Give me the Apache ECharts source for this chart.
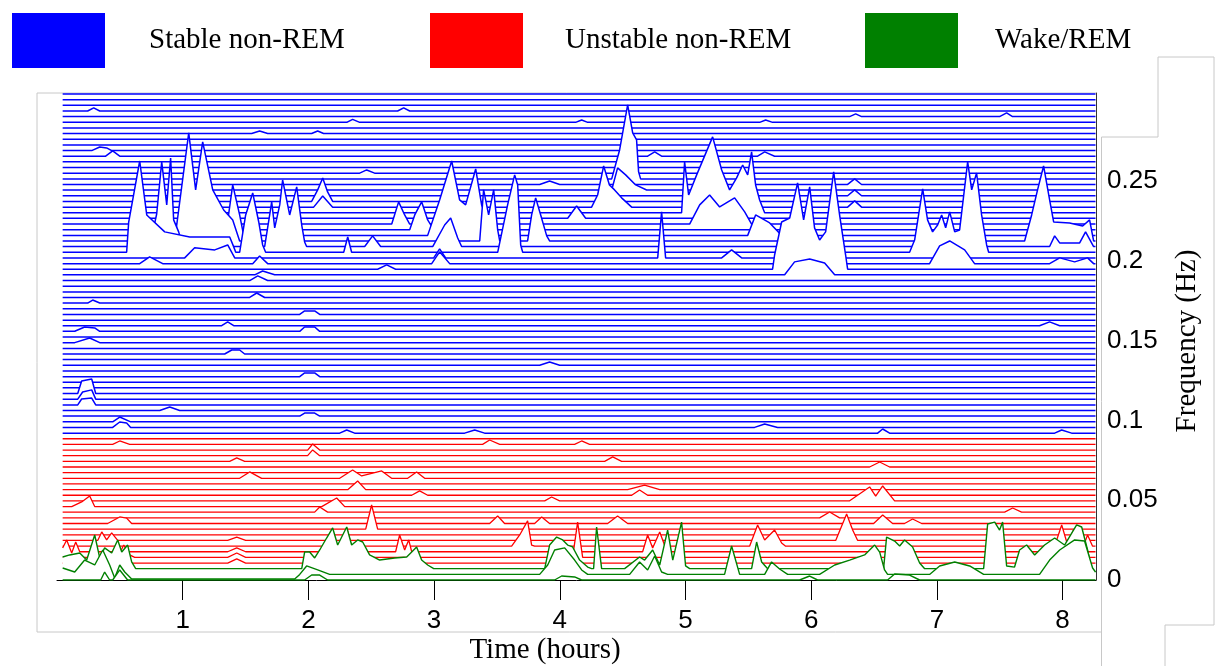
<!DOCTYPE html>
<html>
<head>
<meta charset="utf-8">
<title>Sleep stage waterfall</title>
<script src="https://cdn.jsdelivr.net/npm/echarts@6/dist/echarts.min.js"></script>
<style>
  html, body { margin: 0; padding: 0; background: #fff; }
  #chart { width: 1221px; height: 666px; }
</style>
</head>
<body>
<div id="chart"></div>
<script>
// frequency bin of each trace (Hz), bottom trace first
const freqBins = [
  0, .0035, .0071, .0106, .0142, .0177, .0212, .0248, .0283, .0319,
  .0354, .0389, .0425, .0460, .0496, .0531, .0566, .0602, .0637, .0673,
  .0708, .0743, .0779, .0814, .0850, .0885, .0920, .0956, .0991, .1027,
  .1062, .1097, .1133, .1168, .1204, .1239, .1274, .1310, .1345, .1381,
  .1416, .1451, .1487, .1522, .1558, .1593, .1628, .1664, .1699, .1735,
  .1770, .1805, .1841, .1876, .1912, .1947, .1982, .2018, .2053, .2089,
  .2124, .2159, .2195, .2230, .2266, .2301, .2336, .2372, .2407, .2443,
  .2478, .2513, .2549, .2584, .2620, .2655, .2690, .2726, .2761, .2797,
  .2832, .2867, .2903, .2938, .2974, .3009, .3044
];

const stageNames = ['Wake/REM', 'Unstable non-REM', 'Stable non-REM'];
const stageColors = ['#008000', '#ff0000', '#0000ff'];
const stageLastBin = [2, 25, 86];
const stageWidths = [1.4, 1.3, 1.5];

const T_START = 0.045; // hours
const T_END = 8.262;

// [trace, leaves baseline (h), back on baseline (h), [[time h, value Hz], ...]]
// null = the shape runs off the edge of the plot
const wakeShapes = [
  [2, null, 0.626, [[0.045,.0144],[0.101,.0157],[0.181,.0169],[0.236,.0125],[0.300,.0282],[0.340,.0138],[0.379,.0201],[0.435,.0169],[0.483,.0251],[0.515,.0175],[0.562,.0219],[0.594,.0113]]],
  [2, 1.947, 2.997, [[1.970,.0175],[2.010,.0175],[2.050,.0138],[2.090,.0188],[2.145,.0263],[2.193,.0326],[2.233,.0219],[2.273,.0282],[2.305,.0332],[2.344,.0219],[2.392,.0251],[2.432,.0238],[2.487,.0157],[2.567,.0125],[2.686,.0138],[2.782,.0144],[2.822,.0175],[2.861,.0207],[2.901,.0125],[2.949,.0094]]],
  [2, 3.880, 4.253, [[3.919,.0219],[3.975,.0269],[4.023,.0251],[4.063,.0219],[4.102,.0207],[4.158,.0125],[4.222,.0081]]],
  [2, 4.269, 4.333, [[4.293,.0332]]],
  [2, 4.516, 5.033, [[4.635,.0144],[4.675,.0125],[4.739,.0188],[4.795,.0094],[4.858,.0313],[4.899,.0125],[4.969,.0363],[5.001,.0088]]],
  [2, 5.526, 5.654, [[5.566,.0238],[5.606,.0113]]],
  [2, 6.576, 6.903, [[6.600,.0269],[6.664,.0244],[6.704,.0213],[6.743,.0251],[6.807,.0207],[6.863,.0107]]],
  [2, 7.372, null, [[7.404,.0351],[7.460,.0363],[7.499,.0313],[7.523,.0363],[7.555,.0088],[7.618,.0081],[7.658,.0188],[7.714,.0219],[7.778,.0157],[7.857,.0219],[7.937,.0263],[8.016,.0219],[8.112,.0345],[8.152,.0332],[8.199,.0188],[8.231,.0063],[8.262,.0050]]],
  [1, null, 1.931, [[0.045,.0075],[0.141,.0050],[0.220,.0125],[0.300,.0094],[0.364,.0188],[0.419,.0094],[0.459,.0013],[0.499,.0094],[0.539,.0050],[0.594,.0006],[1.891,.0006]]],
  [1, 1.931, 2.169, [[1.986,.0088],[2.074,.0063]]],
  [1, 3.840, 4.222, [[3.904,.0094],[3.959,.0188],[4.039,.0201],[4.118,.0125],[4.174,.0063]]],
  [1, 4.556, 4.858, [[4.635,.0113],[4.699,.0063],[4.755,.0150],[4.810,.0050]]],
  [1, 5.311, 5.431, [[5.367,.0213]]],
  [1, 5.630, 5.813, [[5.685,.0113],[5.749,.0069]]],
  [1, 6.067, 6.608, [[6.187,.0094],[6.306,.0125],[6.425,.0157],[6.505,.0219],[6.545,.0175],[6.584,.0063]]],
  [1, 6.942, 7.372, [[7.022,.0088],[7.142,.0113],[7.261,.0088]]],
  [1, 7.817, null, [[7.897,.0125],[7.977,.0188],[8.096,.0251],[8.175,.0244],[8.239,.0075],[8.262,.0050]]],
  [0, 0.348, 0.419, [[0.379,.0050]]],
  [0, 0.443, 0.562, [[0.499,.0063]]],
  [0, 1.970, 2.153, [[2.026,.0031],[2.090,.0031]]],
  [0, 3.959, 4.174, [[4.015,.0025],[4.118,.0019]]],
  [0, 5.908, 6.051, [[5.988,.0025]]],
  [0, 6.608, 6.863, [[6.664,.0038],[6.783,.0031]]]
];

const unstableShapes = [
  [24, 0.443, 0.578, [[0.499,.0871]]],
  [18, 1.453, 1.628, [[1.533,.0677]]],
  [13, 0.117, 0.300, [[0.196,.0489],[0.260,.0526]]],
  [10, 0.403, 0.594, [[0.499,.0395],[0.554,.0388]]],
  [13, 2.106, 2.289, [[2.225,.0514]]],
  [18, 2.249, 2.662, [[2.352,.0689],[2.424,.0652],[2.583,.0683]]],
  [16, 2.313, 2.456, [[2.392,.0620]]],
  [9, 2.456, 2.551, [[2.503,.0470]]],
  [6, 2.265, 2.344, [[2.305,.0326]]],
  [15, 2.822, 2.949, [[2.885,.0558]]],
  [18, 2.790, 2.925, [[2.861,.0677]]],
  [14, 3.880, 3.999, [[3.935,.0520]]],
  [21, 4.357, 4.492, [[4.421,.0771]]],
  [10, 3.442, 3.561, [[3.506,.0401]]],
  [10, 3.800, 3.919, [[3.856,.0395]]],
  [6, 3.617, 3.800, [[3.681,.0282],[3.744,.0370],[3.776,.0219]]],
  [4, 4.102, 4.182, [[4.142,.0363]]],
  [10, 4.381, 4.540, [[4.460,.0401]]],
  [15, 4.572, 4.699, [[4.635,.0564]]],
  [14, 6.306, 6.664, [[6.465,.0583],[6.513,.0526],[6.569,.0589]]],
  [15, 6.370, 6.624, [[6.449,.0539],[6.545,.0526]]],
  [7, 6.195, 6.370, [[6.282,.0414],[6.330,.0313]]],
  [10, 6.497, 6.648, [[6.569,.0407]]],
  [6, 5.510, 5.797, [[5.574,.0345],[5.630,.0251],[5.709,.0313],[5.765,.0232]]],
  [12, 7.539, 7.674, [[7.603,.0451]]],
  [10, 6.743, 6.879, [[6.807,.0382]]],
  [5, null, 0.181, [[0.045,.0200],[0.077,.0251],[0.117,.0169],[0.149,.0238]]],
  [7, 0.324, 0.483, [[0.356,.0301],[0.395,.0251],[0.435,.0295]]],
  [4, 0.483, 0.618, [[0.531,.0219],[0.578,.0157]]],
  [5, 1.358, 1.501, [[1.430,.0201]]],
  [4, 1.358, 1.501, [[1.430,.0169]]],
  [3, 1.358, 1.501, [[1.430,.0132]]],
  [7, 1.358, 1.501, [[1.430,.0269]]],
  [5, 2.694, 2.822, [[2.726,.0282],[2.766,.0188],[2.798,.0251]]],
  [5, 4.659, 4.890, [[4.699,.0282],[4.739,.0201],[4.795,.0301],[4.842,.0201]]],
  [6, 7.937, 8.239, [[7.993,.0345],[8.040,.0219],[8.087,.0313],[8.160,.0201],[8.199,.0282]]],
  [21, 1.374, 1.493, [[1.430,.0765]]],
  [22, 1.994, 2.090, [[2.034,.0815]]],
  [23, 1.994, 2.090, [[2.034,.0852]]],
  [20, 6.465, 6.624, [[6.545,.0739]]],
  [11, 6.067, 6.226, [[6.147,.0426]]],
  [12, 2.050, 2.153, [[2.090,.0457]]],
  [24, 3.386, 3.522, [[3.442,.0877]]],
  [24, 4.118, 4.237, [[4.174,.0871]]],
  [16, 4.540, 4.795, [[4.675,.0595]]]
];

const stableShapes = [
  [58, 0.554, 1.422, [[0.570,.2240],[0.658,.2625],[0.714,.2287],[0.857,.2181],[1.056,.2149],[1.374,.2149],[1.406,.2087]]],
  [59, 0.737, 1.000, [[0.793,.2293],[0.833,.2619],[0.873,.2350],[0.904,.2644],[0.928,.2256],[0.968,.2181]]],
  [60, 0.936, 1.453, [[0.968,.2318],[1.048,.2801],[1.103,.2444],[1.159,.2745],[1.239,.2444],[1.326,.2318],[1.398,.2256]]],
  [61, 1.342, 1.485, [[1.398,.2475],[1.453,.2287]]],
  [58, 1.453, 1.660, [[1.501,.2287],[1.557,.2425],[1.605,.2243],[1.636,.2099]]],
  [59, 1.652, 1.986, [[1.692,.2287],[1.708,.2369],[1.732,.2206],[1.772,.2350],[1.795,.2506],[1.851,.2287],[1.907,.2463],[1.947,.2224],[1.970,.2118]]],
  [57, 1.016, 1.414, [[1.095,.2081],[1.255,.2068],[1.358,.2099]]],
  [56, 0.658, 0.841, [[0.737,.2024]]],
  [56, 1.557, 1.676, [[1.612,.2030]]],
  [67, 2.026, 2.193, [[2.074,.2444],[2.114,.2519],[2.153,.2431]]],
  [66, 2.042, 2.193, [[2.114,.2406]]],
  [58, 2.281, 2.344, [[2.313,.2149]]],
  [59, 2.448, 2.575, [[2.511,.2156]]],
  [55, 2.551, 2.694, [[2.623,.1974]]],
  [63, 2.663, 2.806, [[2.718,.2369],[2.766,.2287]]],
  [62, 2.806, 2.997, [[2.846,.2287],[2.901,.2369],[2.949,.2256]]],
  [61, 2.949, 3.458, [[3.044,.2381],[3.140,.2625],[3.203,.2381],[3.251,.2350],[3.331,.2575],[3.378,.2350],[3.426,.2256]]],
  [60, 3.363, 3.522, [[3.394,.2444],[3.434,.2287],[3.474,.2444],[3.506,.2193]]],
  [58, 3.506, 3.705, [[3.585,.2350],[3.641,.2538],[3.665,.2475],[3.689,.2099]]],
  [59, 2.989, 3.219, [[3.084,.2224],[3.132,.2268],[3.188,.2143]]],
  [57, 2.997, 3.092, [[3.044,.2074]]],
  [56, 2.981, 3.124, [[3.044,.2056]]],
  [60, 3.744, 3.919, [[3.776,.2287],[3.808,.2394],[3.848,.2287],[3.896,.2156]]],
  [70, 3.840, 3.999, [[3.919,.2500]]],
  [64, 4.063, 4.206, [[4.134,.2343]]],
  [71, 4.413, 4.643, [[4.476,.2694],[4.540,.2976],[4.580,.2801],[4.611,.2757],[4.627,.2557]]],
  [69, 4.413, 4.691, [[4.460,.2582],[4.524,.2538],[4.604,.2475]]],
  [66, 4.253, 4.572, [[4.301,.2412],[4.349,.2594],[4.395,.2475],[4.436,.2444],[4.492,.2394]]],
  [57, 4.779, 4.842, [[4.810,.2306]]],
  [75, 4.699, 4.810, [[4.755,.2682]]],
  [65, 4.969, 5.630, [[4.993,.2619],[5.025,.2412],[5.089,.2538],[5.216,.2776],[5.288,.2569],[5.351,.2444],[5.407,.2519],[5.455,.2600],[5.495,.2538],[5.526,.2682],[5.558,.2475],[5.590,.2381]]],
  [63, 5.033, 5.526, [[5.113,.2350],[5.192,.2412],[5.272,.2337],[5.391,.2394],[5.471,.2306]]],
  [57, 5.288, 5.447, [[5.367,.2068]]],
  [61, 5.495, 5.765, [[5.558,.2287],[5.670,.2237]]],
  [55, 5.693, 6.290, [[5.709,.2036],[5.765,.2243],[5.829,.2268],[5.892,.2488],[5.940,.2256],[5.988,.2463],[6.027,.2206],[6.067,.2130],[6.115,.2181],[6.179,.2557],[6.226,.2287],[6.274,.2036]]],
  [54, 5.789, 6.187, [[5.868,.1993],[5.988,.2011],[6.107,.1986]]],
  [68, 6.290, 6.401, [[6.346,.2444]]],
  [70, 6.290, 6.401, [[6.346,.2513]]],
  [66, 6.290, 6.401, [[6.346,.2375]]],
  [58, 6.783, 7.412, [[6.823,.2130],[6.887,.2450],[6.926,.2256],[6.966,.2181],[7.006,.2224],[7.038,.2287],[7.070,.2206],[7.102,.2306],[7.142,.2181],[7.181,.2193],[7.245,.2619],[7.277,.2444],[7.316,.2550],[7.356,.2287],[7.396,.2099]]],
  [56, 6.942, 7.300, [[7.022,.2093],[7.102,.2124],[7.221,.2068]]],
  [60, 7.698, 8.247, [[7.754,.2287],[7.801,.2444],[7.849,.2594],[7.897,.2381],[7.929,.2243],[8.056,.2237],[8.160,.2218],[8.215,.2256]]],
  [59, 7.897, 8.247, [[7.937,.2156],[7.977,.2112],[8.136,.2112],[8.183,.2181]]],
  [56, 7.897, 8.247, [[7.977,.2018],[8.096,.1993],[8.199,.2018]]],
  [83, 0.244, 0.340, [[0.292,.2958]]],
  [83, 2.710, 2.806, [[2.758,.2958]]],
  [76, 0.276, 0.435, [[0.340,.2713],[0.395,.2707]]],
  [75, 0.387, 0.499, [[0.443,.2688]]],
  [79, 1.549, 1.676, [[1.612,.2813]]],
  [79, 2.026, 2.121, [[2.074,.2813]]],
  [81, 2.305, 2.408, [[2.352,.2886]]],
  [72, 2.408, 2.527, [[2.464,.2569]]],
  [81, 4.126, 4.222, [[4.174,.2882]]],
  [81, 5.590, 5.693, [[5.638,.2882]]],
  [82, 6.306, 6.401, [[6.354,.2920]]],
  [82, 7.499, 7.602, [[7.555,.2926]]],
  [75, 5.574, 5.709, [[5.630,.2682]]],
  [54, 1.573, 1.732, [[1.636,.1936]]],
  [50, 1.533, 1.652, [[1.589,.1798]]],
  [45, 1.310, 1.406, [[1.358,.1617]]],
  [44, 0.141, 0.340, [[0.220,.1585],[0.300,.1579]]],
  [42, 0.141, 0.340, [[0.260,.1516]]],
  [33, 0.165, 0.308, [[0.196,.1247],[0.276,.1259]]],
  [32, 0.165, 0.308, [[0.204,.1178],[0.276,.1191]]],
  [31, 0.165, 0.308, [[0.196,.1134],[0.276,.1140]]],
  [27, 0.443, 0.586, [[0.499,.0990],[0.554,.0984]]],
  [27, 5.550, 5.733, [[5.630,.0977]]],
  [28, 0.443, 0.586, [[0.499,.1021]]],
  [44, 1.931, 2.090, [[1.970,.1585],[2.050,.1585]]],
  [47, 1.931, 2.090, [[1.970,.1686],[2.050,.1686]]],
  [36, 1.931, 2.090, [[1.970,.1297],[2.050,.1297]]],
  [29, 1.931, 2.090, [[1.970,.1046],[2.050,.1046]]],
  [53, 1.533, 1.676, [[1.597,.1905]]],
  [49, 0.244, 0.340, [[0.284,.1754]]],
  [40, 1.334, 1.493, [[1.390,.1441],[1.453,.1441]]],
  [30, 0.817, 0.976, [[0.897,.1084]]],
  [45, 7.817, 7.977, [[7.897,.1617]]],
  [38, 3.840, 3.999, [[3.919,.1366]]],
  [26, 2.249, 2.368, [[2.305,.0940]]],
  [26, 3.243, 3.402, [[3.323,.0940]]],
  [26, 6.529, 6.624, [[6.569,.0946]]],
  [26, 7.937, 8.072, [[7.993,.0940]]]
];

const hourTicks = [1, 2, 3, 4, 5, 6, 7, 8];
const freqTicks = [0, 0.05, 0.1, 0.15, 0.2, 0.25];

const allShapes = wakeShapes.concat(unstableShapes, stableShapes);

function stageOf(k) {
  if (k <= stageLastBin[0]) return 0;
  if (k <= stageLastBin[1]) return 1;
  return 2;
}

// trace k: flat on its frequency bin, with the shapes
function traceData(k) {
  const base = freqBins[k];
  const own = allShapes.filter(s => s[0] === k)
    .sort((a, b) => (a[1] === null ? -1 : a[1]) - (b[1] === null ? -1 : b[1]));
  const pts = [];
  if (!own.length || own[0][1] !== null) pts.push([T_START, base]);
  own.forEach(s => {
    if (s[1] !== null) pts.push([s[1], base]);
    s[3].forEach(p => pts.push(p));
    if (s[2] !== null) pts.push([s[2], base]);
  });
  if (!own.length || own[own.length - 1][2] !== null) pts.push([T_END, base]);
  return pts;
}

// back traces first; each series gets its own z so that the white area
// under a trace in front hides the lines behind its peaks
const series = [];
for (let k = freqBins.length - 1; k >= 0; k--) {
  const s = stageOf(k);
  series.push({
    type: 'line',
    name: stageNames[s],
    data: traceData(k),
    z: 10 + (freqBins.length - 1 - k),
    symbol: 'none',
    showSymbol: false,
    silent: true,
    animation: false,
    emphasis: { disabled: true },
    itemStyle: { color: stageColors[s] },
    lineStyle: { color: stageColors[s], width: stageWidths[s] },
    areaStyle: { color: '#ffffff', opacity: 1, origin: 'start' }
  });
}

const serif = '"Liberation Serif", "Times New Roman", serif';
const sans = '"Liberation Sans", Arial, sans-serif';

function stageLegend(s, left, gap) {
  return {
    left: left,
    top: 13,
    padding: 0,
    orient: 'horizontal',
    selectedMode: false,
    itemWidth: 93,
    itemHeight: 55,
    icon: 'rect',
    data: [{ name: stageNames[s], icon: 'rect', itemStyle: { color: stageColors[s], borderWidth: 0 } }],
    textStyle: { fontFamily: serif, fontSize: 29, color: '#000', padding: [0, 0, 18, gap] }
  };
}

const chart = echarts.init(document.getElementById('chart'), null, { renderer: 'canvas' });
chart.setOption({
  backgroundColor: '#ffffff',
  animation: false,
  legend: [stageLegend(2, 12, 39), stageLegend(1, 430, 37), stageLegend(0, 865, 32)],
  grid: { left: 57, right: 125, top: 93, bottom: 86 },
  xAxis: {
    type: 'value',
    min: 0,
    max: 8.266,
    splitLine: { show: false },
    axisLine: { show: true, onZero: false, lineStyle: { color: '#000', width: 1 } },
    axisTick: { show: true, customValues: hourTicks, length: 20, lineStyle: { color: '#000' } },
    axisLabel: { customValues: hourTicks, margin: 28, fontFamily: sans, fontSize: 26, color: '#000' }
  },
  yAxis: {
    type: 'value',
    position: 'right',
    min: 0,
    max: 0.3051,
    splitLine: { show: false },
    axisLine: { show: true, onZero: false, lineStyle: { color: '#333', width: 1 } },
    axisTick: { show: false },
    axisLabel: { customValues: freqTicks, margin: 11, fontFamily: sans, fontSize: 26, color: '#000' }
  },
  graphic: [
    { type: 'polyline', silent: true, z: 0, shape: { points: [[37, 93], [37, 632], [1101.5, 632]] },
      style: { stroke: '#c8c8c8', lineWidth: 1, fill: null } },
    { type: 'line', silent: true, z: 0, shape: { x1: 37, y1: 93, x2: 1096, y2: 93 },
      style: { stroke: '#c8c8c8', lineWidth: 1 } },
    { type: 'polyline', silent: true, z: 0,
      shape: { points: [[1101.5, 666], [1101.5, 137], [1158, 137], [1158, 57], [1214, 57], [1214, 625], [1165, 625], [1165, 666]] },
      style: { stroke: '#c8c8c8', lineWidth: 1, fill: null } },
    { type: 'text', silent: true, x: 545, y: 650,
      style: { text: 'Time (hours)', font: '29px ' + serif, fill: '#000', align: 'center', verticalAlign: 'middle' } },
    { type: 'text', silent: true, x: 1187, y: 341, rotation: Math.PI / 2,
      style: { text: 'Frequency (Hz)', font: '29px ' + serif, fill: '#000', align: 'center', verticalAlign: 'middle' } }
  ],
  series: series
});
</script>
</body>
</html>
